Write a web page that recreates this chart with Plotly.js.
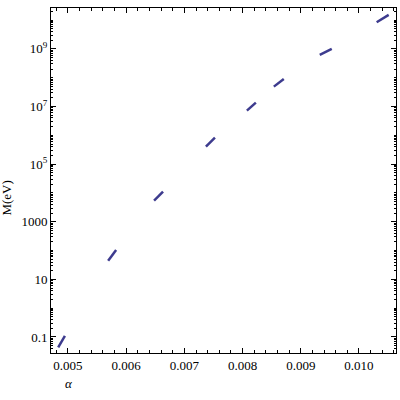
<!DOCTYPE html>
<html>
<head>
<meta charset="utf-8">
<script src="https://cdn.plot.ly/plotly-3.0.1.min.js"></script>
<style>html,body{margin:0;padding:0;background:#fff}#chart{width:400px;height:400px}</style>
</head>
<body>
<div id="chart"></div>
<script>
// Each branch is a short segment: alpha values and log10(M/eV) values at its two ends
const seg1Alpha = [0.004832, 0.004947];
const seg1LogM  = [-1.358, -0.965];
const seg2Alpha = [0.005690, 0.005827];
const seg2LogM  = [1.649, 2.021];
const seg3Alpha = [0.006479, 0.006633];
const seg3LogM  = [3.733, 4.045];
const seg4Alpha = [0.007370, 0.007525];
const seg4LogM  = [5.608, 5.920];
const seg5Alpha = [0.008074, 0.008228];
const seg5LogM  = [6.858, 7.135];
const seg6Alpha = [0.008537, 0.008708];
const seg6LogM  = [7.691, 7.958];
const seg7Alpha = [0.009326, 0.009532];
const seg7LogM  = [8.792, 9.000];
const seg8Alpha = [0.010304, 0.010510];
const seg8LogM  = [9.927, 10.181];

const yTickVals = [0.1, 10, 1000, 1e5, 1e7, 1e9];
const yTickText = ["0.1", "10", "1000", "10<sup>5</sup>", "10<sup>7</sup>", "10<sup>9</sup>"];
const xTickVals = [0.005, 0.006, 0.007, 0.008, 0.009, 0.010];
const xTickText = ["0.005", "0.006", "0.007", "0.008", "0.009", "0.010"];

const segments = [
  [seg1Alpha, seg1LogM], [seg2Alpha, seg2LogM], [seg3Alpha, seg3LogM], [seg4Alpha, seg4LogM],
  [seg5Alpha, seg5LogM], [seg6Alpha, seg6LogM], [seg7Alpha, seg7LogM], [seg8Alpha, seg8LogM]
];

const lineColor = '#3d3b8e';
const traces = segments.map(([a, lm]) => ({
  x: a,
  y: lm.map(v => Math.pow(10, v)),
  mode: 'lines',
  type: 'scatter',
  line: {color: lineColor, width: 2.5},
  hoverinfo: 'skip',
  showlegend: false
}));

const font = {family: 'Liberation Serif, Times New Roman, serif', size: 13, color: '#000'};

const layout = {
  width: 400, height: 400,
  margin: {l: 51, r: 4, t: 8, b: 47},
  paper_bgcolor: '#fff', plot_bgcolor: '#fff',
  font: font,
  showlegend: false,
  xaxis: {
    range: [0.004708, 0.010636],
    tickvals: xTickVals, ticktext: xTickText,
    ticks: 'inside', ticklen: 5, tickwidth: 1, tickcolor: '#000',
    showgrid: false, zeroline: false,
    showline: true, linecolor: '#000', linewidth: 1, mirror: 'allticks',
    minor: {ticks: 'inside', ticklen: 3, dtick: 0.0002, tick0: 0.005, tickcolor: '#000', showgrid: false},
    tickfont: font
  },
  yaxis: {
    type: 'log',
    range: [-1.556, 10.42],
    tickvals: yTickVals, ticktext: yTickText,
    ticks: 'inside', ticklen: 5, tickwidth: 1, tickcolor: '#000',
    showgrid: false, zeroline: false,
    showline: true, linecolor: '#000', linewidth: 1, mirror: 'allticks',
    minor: {ticks: 'inside', ticklen: 2, dtick: 'D1', tickcolor: '#000', showgrid: false},
    tickfont: font
  },
  annotations: [
    {text: 'M(eV)', xref: 'paper', yref: 'paper', x: -0.128, y: 0.45, xanchor: 'center', yanchor: 'middle',
     textangle: -90, showarrow: false, font: font},
    {text: '<i>α</i>', xref: 'paper', yref: 'paper', x: 0.052, y: -0.088, xanchor: 'center', yanchor: 'middle',
     showarrow: false, font: font}
  ]
};

Plotly.newPlot('chart', traces, layout, {displayModeBar: false, staticPlot: true});
</script>
</body>
</html>
